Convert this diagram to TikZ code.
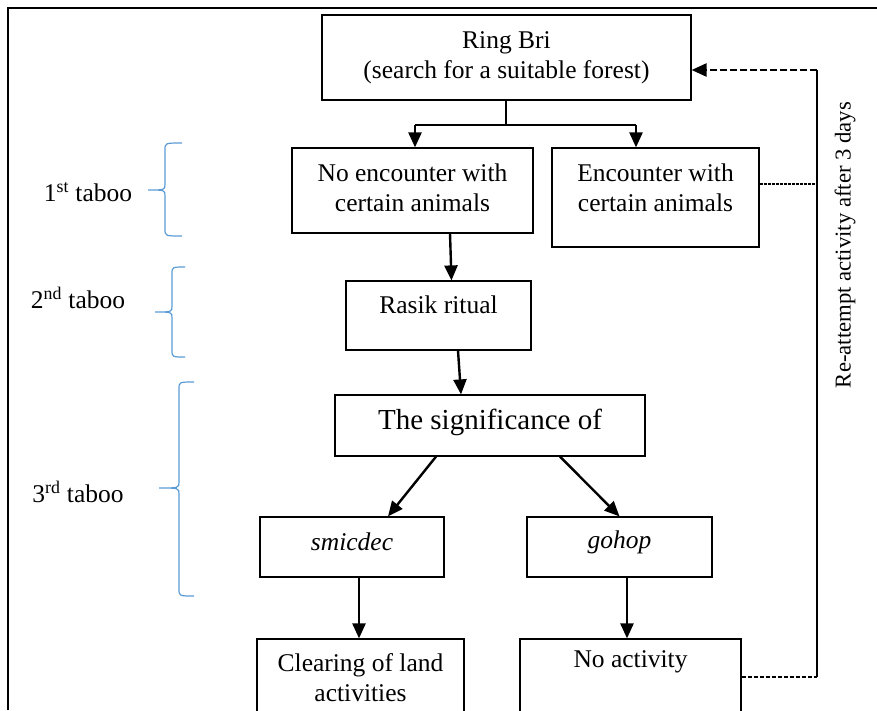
\documentclass[tikz,border=0pt]{standalone}
\usepackage{fontspec}
\setmainfont{Liberation Serif}
\newfontfamily\boxfont{Liberation Serif}
\usetikzlibrary{arrows.meta}
\definecolor{bracecol}{HTML}{5B9BD5}
\begin{document}
\begin{tikzpicture}[x=1pt,y=-1pt,
  box/.style={draw, line width=1.2pt, inner sep=0pt},
  txt/.style={align=center, font=\boxfont\fontsize{25.5}{30}\selectfont, inner sep=0pt},
  side/.style={align=center, font=\boxfont\fontsize{25.5}{30}\selectfont, inner sep=0pt},
  arr/.style={line width=2.4pt, -{Triangle[length=15pt,width=13pt]}},
  link/.style={line width=2.4pt},
  brace/.style={draw=bracecol, line width=1.2pt}]
\useasboundingbox (0,0) rectangle (877,710);
\clip (0,0) rectangle (877,710);

% outer frame
\draw[line width=2.6pt] (8,710) -- (8,8) -- (877,8);

% boxes
\node[box, minimum width=369pt, minimum height=85pt] (ring) at (506.5,57.5) {};
\node[box, minimum width=241pt, minimum height=85pt] (noenc) at (412.5,190.5) {};
\node[box, minimum width=207pt, minimum height=99pt] (enc) at (655.5,197.5) {};
\node[box, minimum width=185pt, minimum height=69pt] (rasik) at (438.5,315.5) {};
\node[box, minimum width=310pt, minimum height=61pt] (sig) at (490,425.5) {};
\node[box, minimum width=184pt, minimum height=60pt] (smic) at (352,547) {};
\node[box, minimum width=185pt, minimum height=60pt] (gohop) at (619.5,547) {};
\node[box, minimum width=207pt, minimum height=91pt] (clear) at (360.5,684.5) {};
\node[box, minimum width=221pt, minimum height=91pt] (noact) at (630.5,684.5) {};

% box texts
\node[txt] (ringT) at (506.5,58) {Ring Bri\\(search for a suitable forest)};
\node[txt] (noencT) at (412.5,187.5) {No encounter with\\certain animals};
\node[txt] (encT) at (655.5,188) {Encounter with\\certain animals};
\node[txt] (rasikT) at (438.5,305) {Rasik ritual};
\node[txt, font=\boxfont\fontsize{29}{32}\selectfont] (sigT) at (490,422) {The significance of};
\node[txt] (smicT) at (352,542) {\itshape smicdec};
\node[txt] (gohopT) at (619.5,542) {\itshape gohop};
\node[txt] (clearT) at (360.5,678) {Clearing of land\\activities};
\node[txt] (noactT) at (630.5,662) {No activity};

% taboo labels
\node[side] (t1) at (88,192) {1\textsuperscript{st} taboo};
\node[side] (t2) at (78,298) {2\textsuperscript{nd} taboo};
\node[side] (t3) at (78,492) {3\textsuperscript{rd} taboo};

% braces
\draw[brace] (182,143) .. controls (165,143) .. (165,150) -- (165,184)
  .. controls (165,190) .. (148,190) .. controls (165,190) .. (165,196)
  -- (165,229) .. controls (165,236) .. (182,236);
\draw[brace] (185,267) .. controls (172,267) .. (172,274) -- (172,306)
  .. controls (172,312) .. (155,312) .. controls (172,312) .. (172,318)
  -- (172,350) .. controls (172,357) .. (185,357);
\draw[brace] (194,382) .. controls (179,382) .. (179,389) -- (179,482)
  .. controls (179,488) .. (159,488) .. controls (179,488) .. (179,494)
  -- (179,589) .. controls (179,596) .. (194,596);

% fork below the first box
\coordinate (fk) at (506,125);
\coordinate (fkL) at (415,125);
\coordinate (fkR) at (636,125);
\draw[link] (ring.south -| fk) -- (fk);
\draw[link] (fkL) -- (fkR);
\draw[arr] (fkL) -- (fkL |- noenc.north);
\draw[arr] (fkR) -- (fkR |- enc.north);

% main flow
\draw[arr] ([xshift=37.5pt]noenc.south) -- ([xshift=13pt]rasik.north);
\draw[arr] ([xshift=19.5pt]rasik.south) -- ([xshift=-29pt]sig.north);
\draw[arr] ([xshift=-54pt]sig.south) -- ([xshift=36pt]smic.north);
\draw[arr] ([xshift=70pt]sig.south) -- (gohop.north);
\draw[arr] ([xshift=7pt]smic.south) -- ([xshift=-1.5pt]clear.north);
\draw[arr] ([xshift=7.5pt]gohop.south) -- ([xshift=-3.5pt]noact.north);

% return path
\coordinate (rtop) at (817,70);
\coordinate (rmid) at (817,184);
\coordinate (rbot) at (817,677);
\draw[line width=1.3pt, dash pattern=on 4pt off 2pt] (noact.east |- rbot) -- (rbot);
\draw[line width=1.2pt] (rbot) -- (rtop);
\draw[line width=1.1pt, dash pattern=on 3pt off 1pt] (enc.east |- rmid) -- (rmid);
\draw[line width=2.4pt, dash pattern=on 7pt off 3pt, -{Triangle[length=15pt,width=13pt]}]
  (rtop) -- (ring.east |- rtop);
\node[side, rotate=90, font=\boxfont\fontsize{22.7}{26}\selectfont] (retry) at (845,245) {Re-attempt activity after 3 days};
\end{tikzpicture}
\end{document}
